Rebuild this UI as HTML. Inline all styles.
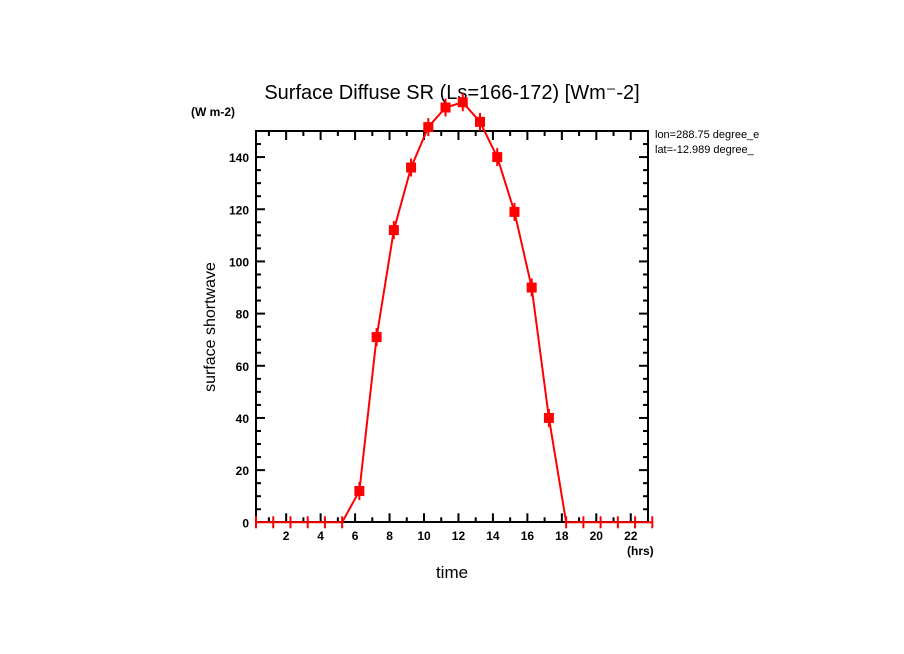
<!DOCTYPE html>
<html><head><meta charset="utf-8"><style>
body{margin:0;background:#fff;}
svg{display:block;font-family:"Liberation Sans","DejaVu Sans",sans-serif;}
</style></head><body>
<svg id="chart" width="904" height="654" viewBox="0 0 904 654">
<text x="452" y="99" font-size="20" text-anchor="middle">Surface Diffuse SR (Ls=166-172) [Wm⁻-2]</text>
<text x="191" y="116" font-size="12" font-weight="bold">(W m-2)</text>
<text x="655" y="138" font-size="11">lon=288.75 degree_e</text>
<text x="655" y="153" font-size="11">lat=-12.989 degree_</text>
<rect x="780" y="125" width="124" height="40" fill="#fff"/>
<text transform="translate(215,327) rotate(-90)" font-size="16" text-anchor="middle">surface shortwave</text>
<text x="452" y="578" font-size="17" text-anchor="middle">time</text>
<text x="627" y="555" font-size="12" font-weight="bold">(hrs)</text>
<rect x="256" y="131" width="392" height="391" fill="none" stroke="#000" stroke-width="2"/>
<g id="axes"></g>
<g id="series"></g>
</svg>
<script>
const hours=[0.25,1.25,2.25,3.25,4.25,5.25,6.25,7.25,8.25,9.25,10.25,11.25,12.25,13.25,14.25,15.25,16.25,17.25,18.25,19.25,20.25,21.25,22.25,23.25];
const values=[0,0,0,0,0,0,12,71,112,136,151.5,159,161,153.5,140,119,90,40,0,0,0,0,0,0];
const xTicks=[2,4,6,8,10,12,14,16,18,20,22];
const yTicks=[0,20,40,60,80,100,120,140];
const NS="http://www.w3.org/2000/svg";
const X0=256,X1=648,Y0=522.3,Y1=131,XMIN=0.25,XMAX=23,YMAX=150;
function xs(v){return X0+(v-XMIN)/(XMAX-XMIN)*(X1-X0);}
function ys(v){return Y0-v/YMAX*(Y0-Y1);}
function mk(tag,attrs,parent){const e=document.createElementNS(NS,tag);for(const k in attrs)e.setAttribute(k,attrs[k]);parent.appendChild(e);return e;}
const axes=document.getElementById('axes'),ser=document.getElementById('series');
for(let h=1;h<=22;h++){
 const x=xs(h),len=(h%2==0)?9:5;
 const t1=mk('line',{x1:x,x2:x,y1:Y0,y2:Y0-len,stroke:'#000','stroke-width':2},axes);
 
 
 const t2=mk('line',{x1:x,x2:x,y1:Y1,y2:Y1+len,stroke:'#000','stroke-width':2},axes);
 
 
}
xTicks.forEach(v=>{
 const t=mk('text',{x:xs(v),y:540,'font-size':12,'font-weight':'bold','text-anchor':'middle'},axes);
 t.textContent=v;
 
 
});
for(let v=5;v<150;v+=5){
 const y=ys(v),len=(v%20==0)?9:5;
 const a=mk('line',{x1:X0,x2:X0+len,y1:y,y2:y,stroke:'#000','stroke-width':2},axes);
 
 
 const b=mk('line',{x1:X1,x2:X1-len,y1:y,y2:y,stroke:'#000','stroke-width':2},axes);
 
 
}
yTicks.forEach(v=>{
 const t=mk('text',{x:249,y:ys(v)+5,'font-size':12,'font-weight':'bold','text-anchor':'end'},axes);
 t.textContent=v;
 
 
});
const pts=hours.map((h,i)=>xs(h)+','+ys(values[i])).join(' ');
const line=mk('polyline',{points:pts,fill:'none',stroke:'#f00','stroke-width':2},ser);


hours.forEach((h,i)=>{
 const x=xs(h),y=ys(values[i]);
 if(values[i]>0){
  const r=mk('rect',{x:x-5,y:y-5,width:10,height:10,fill:'#f00'},ser);
  
  
  const e=mk('line',{x1:x,x2:x,y1:y-9,y2:y+9,stroke:'#f00','stroke-width':2},ser);
  
  
 } else {
  const e=mk('line',{x1:x,x2:x,y1:y-6,y2:y+6,stroke:'#f00','stroke-width':2},ser);
  
  
 }
});
</script>
</body></html>
